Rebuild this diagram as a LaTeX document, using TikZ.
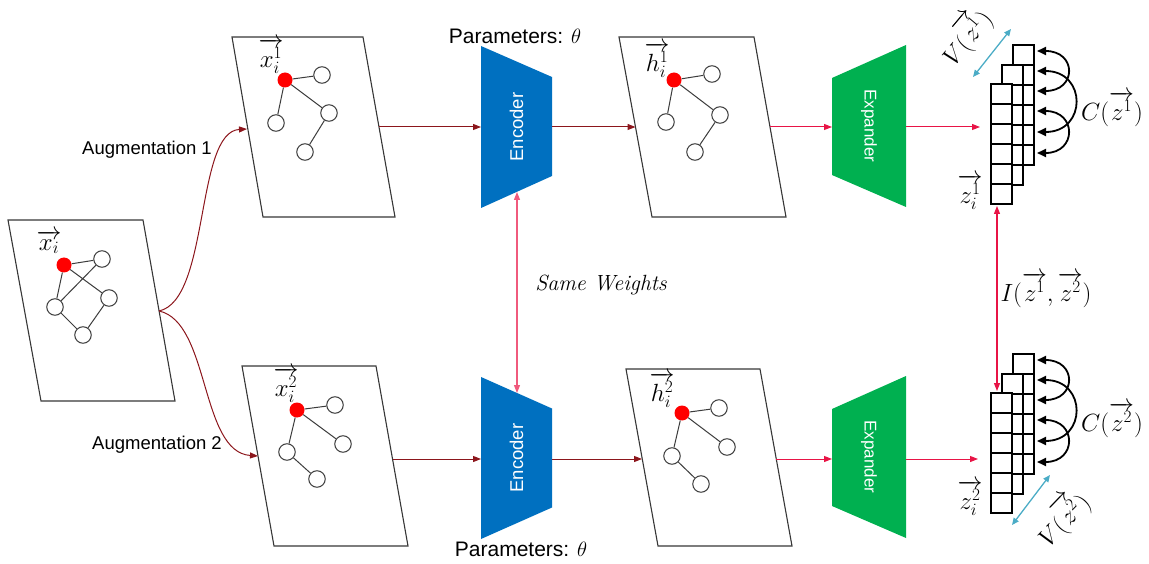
\documentclass[tikz,border=0pt]{standalone}
\usepackage{fontspec}
\setsansfont{Liberation Sans}
\usepackage{amsmath}
\usetikzlibrary{arrows.meta,calc}

\definecolor{darkred}{RGB}{140,22,28}
\definecolor{crimson}{RGB}{232,20,70}
\definecolor{pinkline}{RGB}{240,90,125}
\definecolor{encblue}{RGB}{0,112,192}
\definecolor{expgreen}{RGB}{0,176,80}
\definecolor{cyanarrow}{RGB}{75,172,198}
\definecolor{edgegray}{RGB}{60,60,60}
\definecolor{panelgray}{RGB}{55,55,55}

\begin{document}
\begin{tikzpicture}[x=1pt,y=-1pt,
  panel/.style={draw=panelgray,line width=1.1pt,fill=white},
  gnode/.style={circle,draw=edgegray,fill=white,line width=1pt,minimum size=16.5pt,inner sep=0pt},
  rnode/.style={circle,fill=red,minimum size=15pt,inner sep=0pt},
  gedge/.style={draw=edgegray,line width=1pt},
  tip/.style={-{Triangle[length=8pt,width=6pt]}},
  flowdark/.style={draw=darkred,line width=1pt,tip},
  flowred/.style={draw=crimson,line width=1pt,tip},
  aug/.style={draw=darkred,line width=1pt,tip},
  both/.style={{Triangle[length=8pt,width=6pt]}-{Triangle[length=8pt,width=6pt]}},
  mathlbl/.style={font=\fontsize{24}{28}\selectfont,inner sep=0pt},
  sanslbl/.style={font=\sffamily\fontsize{18.5}{22}\selectfont,inner sep=0pt},
  paramlbl/.style={font=\sffamily\fontsize{21}{25}\selectfont,inner sep=0pt},
  zcell/.style={draw=black,line width=1.8pt,fill=white},
  carc/.style={draw=black,line width=1.8pt,{Triangle[length=9pt,width=8pt]}-{Triangle[length=9pt,width=8pt]}},
  varrow/.style={draw=cyanarrow,line width=1.3pt,{Triangle[length=7pt,width=6pt]}-{Triangle[length=7pt,width=6pt]}}
]
\useasboundingbox (0,0) rectangle (1149,564);

% ---------- input graph ----------
\draw[panel] (8,220) -- (143,220) -- (175,401) -- (41,401) -- cycle;
\node[rnode] (a0) at (64,265) {};
\node[gnode] (a1) at (102,259) {};
\node[gnode] (a2) at (109,298) {};
\node[gnode] (a3) at (55,307) {};
\node[gnode] (a4) at (83,335) {};
\draw[gedge] (a0) -- (a1) (a0) -- (a2) (a0) -- (a3) (a3) -- (a1) (a3) -- (a4) (a4) -- (a2);
\node[mathlbl] (lxi) at (49,242) {$\overrightarrow{x_i}$};

% ---------- augmented views ----------
\draw[panel] (232,37) -- (363,37) -- (395,217) -- (263,217) -- cycle;
\node[rnode] (p0) at (285,80) {};
\node[gnode] (p1) at (322,75) {};
\node[gnode] (p2) at (329,113) {};
\node[gnode] (p3) at (276,123) {};
\node[gnode] (p4) at (305,152) {};
\draw[gedge] (p0) -- (p1) (p0) -- (p2) (p0) -- (p3) (p2) -- (p4);
\node[mathlbl] (lx1) at (271,56) {$\overrightarrow{x_i^1}$};

\draw[panel] (242,366) -- (376,366) -- (408,546) -- (274,546) -- cycle;
\node[rnode] (q0) at (297,410) {};
\node[gnode] (q1) at (335,405) {};
\node[gnode] (q2) at (343,444) {};
\node[gnode] (q3) at (287,452) {};
\node[gnode] (q4) at (317,479) {};
\draw[gedge] (q0) -- (q1) (q0) -- (q2) (q0) -- (q3) (q3) -- (q4);
\node[mathlbl] (lx2) at (286,385) {$\overrightarrow{x_i^2}$};

% ---------- encoded views ----------
\draw[panel] (619,37) -- (754,37) -- (786,217) -- (652,217) -- cycle;
\node[rnode] (s0) at (674,80) {};
\node[gnode] (s1) at (712,74) {};
\node[gnode] (s2) at (720,115) {};
\node[gnode] (s3) at (666,122) {};
\node[gnode] (s4) at (695,152) {};
\draw[gedge] (s0) -- (s1) (s0) -- (s2) (s0) -- (s3) (s2) -- (s4);
\node[mathlbl] (lh1) at (657,60) {$\overrightarrow{h_i^1}$};

\draw[panel] (626,369) -- (760,369) -- (792,546) -- (658,546) -- cycle;
\node[rnode] (t0) at (682,413) {};
\node[gnode] (t1) at (719,408) {};
\node[gnode] (t2) at (727,447) {};
\node[gnode] (t3) at (672,456) {};
\node[gnode] (t4) at (701,484) {};
\draw[gedge] (t0) -- (t1) (t0) -- (t2) (t0) -- (t3) (t3) -- (t4);
\node[mathlbl] (lh2) at (662,390) {$\overrightarrow{h_i^2}$};

% ---------- encoders ----------
\fill[encblue] (481,46) -- (552,77) -- (552,176) -- (481,208) -- cycle;
\node[rotate=90,text=white,font=\sffamily\fontsize{18.5}{22}\selectfont] (enc1) at (516.5,127) {Encoder};
\fill[encblue] (481,377) -- (552,408.5) -- (552,507.5) -- (481,539) -- cycle;
\node[rotate=90,text=white,font=\sffamily\fontsize{18.5}{22}\selectfont] (enc2) at (516.5,458) {Encoder};
\node[paramlbl] (par1) at (515,36) {Parameters: $\theta$};
\node[paramlbl] (par2) at (521,549) {Parameters: $\theta$};

% ---------- expanders ----------
\fill[expgreen] (832,78) -- (906,45) -- (906,207) -- (832,175) -- cycle;
\node[rotate=-90,text=white,font=\sffamily\fontsize{17}{20}\selectfont] (exp1) at (869,126) {Expander};
\fill[expgreen] (832,409) -- (906,376) -- (906,538) -- (832,506) -- cycle;
\node[rotate=-90,text=white,font=\sffamily\fontsize{17}{20}\selectfont] (exp2) at (869,457) {Expander};

% ---------- embedding stacks ----------
\foreach \cx/\cy in {1013/45,1002/65,991/84}{
  \draw[zcell] (\cx,\cy) rectangle ++(21,120);
  \foreach \k in {1,...,5}{\draw[line width=1.8pt] (\cx,\cy+20*\k) -- ++(21,0);}
}
\foreach \cx/\cy in {1013/354,1002/374,991/393}{
  \draw[zcell] (\cx,\cy) rectangle ++(21,120);
  \foreach \k in {1,...,5}{\draw[line width=1.8pt] (\cx,\cy+20*\k) -- ++(21,0);}
}
\node[mathlbl] (lz1) at (970,192) {$\overrightarrow{z_i^1}$};
\node[mathlbl] (lz2) at (970,498) {$\overrightarrow{z_i^2}$};

% covariance arcs
\foreach \n/\yy in {1/51,2/71,3/91,4/111,5/132,6/153}{
  \coordinate (c\n) at (1037,\yy);
  \coordinate (d\n) at (1037,\yy+309);
}
\draw[carc] (c1) .. controls +(40,0) and +(40,0) .. (c3);
\draw[carc] (c2) .. controls +(50,0) and +(50,0) .. (c5);
\draw[carc] (c4) .. controls +(40,0) and +(40,0) .. (c6);
\draw[carc] (d1) .. controls +(40,0) and +(40,0) .. (d3);
\draw[carc] (d2) .. controls +(50,0) and +(50,0) .. (d5);
\draw[carc] (d4) .. controls +(40,0) and +(40,0) .. (d6);
\node[mathlbl] (lc1) at (1112,109) {$C(\overrightarrow{z^1})$};
\node[mathlbl] (lc2) at (1112,420) {$C(\overrightarrow{z^2})$};

% variance arrows
\coordinate (v1a) at (973,77);
\coordinate (v1b) at (1011,29);
\coordinate (v2a) at (1012,525);
\coordinate (v2b) at (1050,475);
\draw[varrow] (v1a) -- (v1b);
\draw[varrow] (v2a) -- (v2b);
\node[mathlbl,rotate=50] (lv1) at (965,36) {$V(\overrightarrow{z^1})$};
\node[mathlbl,rotate=46] (lv2) at (1062,518) {$V(\overrightarrow{z^2})$};

% ---------- connectors ----------
\coordinate (xs) at (159,311);
\coordinate (x1in) at (247,129);
\coordinate (x2in) at (258,456);
\draw[aug] (xs) .. controls (210,300) and (195,132) .. (x1in);
\draw[aug] (xs) .. controls (210,322) and (200,452) .. (x2in);
\node[sanslbl] (aug1) at (147,150) {Augmentation 1};
\node[sanslbl] (aug2) at (157,445) {Augmentation 2};

\coordinate (x1out) at (378.5,127);
\coordinate (e1in) at (481,127);
\coordinate (e1out) at (552,127);
\coordinate (h1in) at (635.5,127);
\coordinate (h1out) at (770,127);
\coordinate (g1in) at (832,127);
\coordinate (g1out) at (906,127);
\coordinate (z1in) at (980,127);
\draw[flowdark] (x1out) -- (e1in);
\draw[flowdark] (e1out) -- (h1in);
\draw[flowred] (h1out) -- (g1in);
\draw[flowred] (g1out) -- (z1in);

\coordinate (x2out) at (392.5,459);
\coordinate (e2in) at (481,459);
\coordinate (e2out) at (552,459);
\coordinate (h2in) at (642,459);
\coordinate (h2out) at (776,459);
\coordinate (g2in) at (832,459);
\coordinate (g2out) at (906,459);
\coordinate (z2in) at (978,459);
\draw[flowdark] (x2out) -- (e2in);
\draw[flowdark] (e2out) -- (h2in);
\draw[flowred] (h2out) -- (g2in);
\draw[flowred] (g2out) -- (z2in);

% shared weights
\coordinate (e1low) at (517,192);
\coordinate (e2up) at (517,393);
\draw[draw=pinkline,line width=1.2pt,both] (e1low) -- (e2up);
\node[font=\itshape\fontsize{22}{26}\selectfont,inner sep=0pt] (same) at (601,285) {Same Weights};

% mutual information
\coordinate (z1low) at (997,206);
\coordinate (z2up) at (997,391);
\draw[draw=crimson,line width=1.2pt,both] (z1low) -- (z2up);
\node[mathlbl] (lI) at (1046,290) {$I(\overrightarrow{z^1},\overrightarrow{z^2})$};
\end{tikzpicture}
\end{document}
